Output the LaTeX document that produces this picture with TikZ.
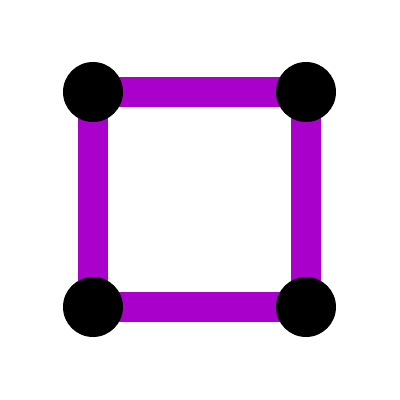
\documentclass[tikz,border=0pt]{standalone}
\definecolor{edgepurple}{RGB}{170,0,204}
\tikzset{
  vertex/.style={circle,fill=black,minimum size=60pt,inner sep=0pt},
  edgeline/.style={draw=edgepurple,line width=30pt}
}
\begin{document}
\begin{tikzpicture}[x=1pt,y=-1pt]
\useasboundingbox (0,0) rectangle (400,400);
\coordinate (a) at (93,92);
\coordinate (b) at (306,92);
\coordinate (c) at (306,307);
\coordinate (d) at (93,307);
\draw[edgeline] (a) -- (b);
\draw[edgeline] (b) -- (c);
\draw[edgeline] (c) -- (d);
\draw[edgeline] (d) -- (a);
\node[vertex] (na) at (a) {};
\node[vertex] (nb) at (b) {};
\node[vertex] (nc) at (c) {};
\node[vertex] (nd) at (d) {};
\end{tikzpicture}
\end{document}
